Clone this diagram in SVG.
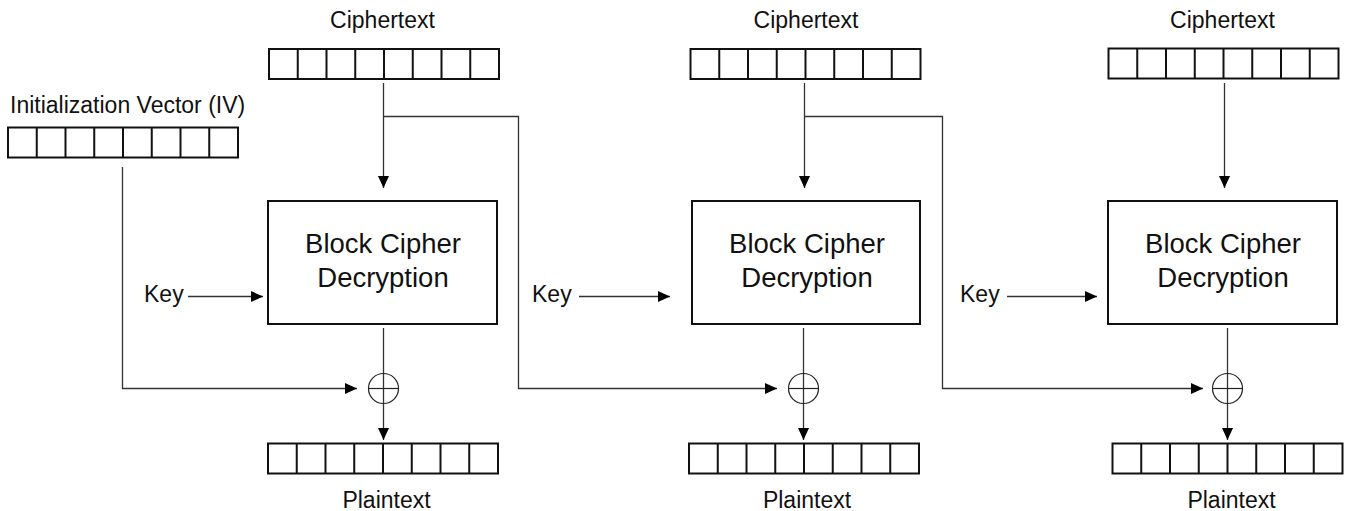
<svg xmlns="http://www.w3.org/2000/svg" width="1346" height="511" viewBox="0 0 1346 511">
<style>
.lbl{font-family:"Liberation Sans",Arial,sans-serif;font-size:23px;fill:#111}
.big{font-family:"Liberation Sans",Arial,sans-serif;font-size:27.5px;fill:#111;text-anchor:middle}
.mid{text-anchor:middle}
.cells{fill:#fff;stroke:#111;stroke-width:2}
.box{fill:#fff;stroke:#111;stroke-width:2}
.ln{fill:none;stroke:#333;stroke-width:1.3}
.xor{fill:none;stroke:#222;stroke-width:1.2}
</style>
<defs>
<marker id="ah" markerWidth="12" markerHeight="12" refX="12" refY="6" orient="auto" markerUnits="userSpaceOnUse">
<path d="M0,0.5 L12,6 L0,11.5 Z" fill="#000"/>
</marker>
<g id="cellrow">
<rect class="cells" x="0" y="0" width="230" height="30"/>
<path class="cells" d="M28.75,0V30M57.5,0V30M86.25,0V30M115,0V30M143.75,0V30M172.5,0V30M201.25,0V30"/>
</g>
</defs>
<rect width="1346" height="511" fill="#fff"/>

<g id="connectors">
<!-- IV path -->
<path class="ln" d="M122.5,167V388.5H357" marker-end="url(#ah)"/>
<!-- column 1 -->
<path class="ln" d="M383.5,83V188" marker-end="url(#ah)"/>
<path class="ln" d="M383.5,116.5H518.5V388.5H777" marker-end="url(#ah)"/>
<path class="ln" d="M188,296.5H263" marker-end="url(#ah)"/>
<path class="ln" d="M383.5,328V440" marker-end="url(#ah)"/>
<!-- column 2 -->
<path class="ln" d="M804.5,83V188" marker-end="url(#ah)"/>
<path class="ln" d="M804.5,116.5H942.5V388.5H1203" marker-end="url(#ah)"/>
<path class="ln" d="M579,296.5H670" marker-end="url(#ah)"/>
<path class="ln" d="M803.5,328V440" marker-end="url(#ah)"/>
<!-- column 3 -->
<path class="ln" d="M1224.5,83V188" marker-end="url(#ah)"/>
<path class="ln" d="M1007,296.5H1097" marker-end="url(#ah)"/>
<path class="ln" d="M1227.5,328V440" marker-end="url(#ah)"/>
</g>

<g id="iv">
<text class="lbl" x="10" y="113">Initialization Vector (IV)</text>
<use href="#cellrow" x="8" y="127.5"/>
</g>

<g id="ciphertext1">
<text class="lbl mid" x="382.5" y="28">Ciphertext</text>
<use href="#cellrow" x="269" y="49"/>
</g>
<g id="ciphertext2">
<text class="lbl mid" x="806" y="28">Ciphertext</text>
<use href="#cellrow" x="690.5" y="49"/>
</g>
<g id="ciphertext3">
<text class="lbl mid" x="1222.5" y="28">Ciphertext</text>
<use href="#cellrow" x="1108.5" y="48.5"/>
</g>

<g id="decrypt1">
<rect class="box" x="268" y="201" width="229" height="123"/>
<text class="big" x="383" y="253">Block Cipher</text>
<text class="big" x="383" y="287">Decryption</text>
</g>
<g id="decrypt2">
<rect class="box" x="692" y="201" width="228" height="123"/>
<text class="big" x="807" y="253">Block Cipher</text>
<text class="big" x="807" y="287">Decryption</text>
</g>
<g id="decrypt3">
<rect class="box" x="1108" y="201" width="229" height="123"/>
<text class="big" x="1223" y="253">Block Cipher</text>
<text class="big" x="1223" y="287">Decryption</text>
</g>

<g id="key1"><text class="lbl" x="144" y="302">Key</text></g>
<g id="key2"><text class="lbl" x="532" y="302">Key</text></g>
<g id="key3"><text class="lbl" x="960" y="302">Key</text></g>

<g id="xor1">
<circle class="xor" cx="383.5" cy="388.5" r="15"/>
<path class="xor" d="M368.5,388.5H398.5"/>
</g>
<g id="xor2">
<circle class="xor" cx="803.5" cy="388.5" r="15"/>
<path class="xor" d="M788.5,388.5H818.5"/>
</g>
<g id="xor3">
<circle class="xor" cx="1227.5" cy="388.5" r="15"/>
<path class="xor" d="M1212.5,388.5H1242.5"/>
</g>

<g id="plaintext1">
<use href="#cellrow" x="268" y="443.5"/>
<text class="lbl mid" x="386.5" y="508">Plaintext</text>
</g>
<g id="plaintext2">
<use href="#cellrow" x="689" y="443.5"/>
<text class="lbl mid" x="807" y="508">Plaintext</text>
</g>
<g id="plaintext3">
<use href="#cellrow" x="1112.5" y="443.5"/>
<text class="lbl mid" x="1231.5" y="508">Plaintext</text>
</g>
</svg>
